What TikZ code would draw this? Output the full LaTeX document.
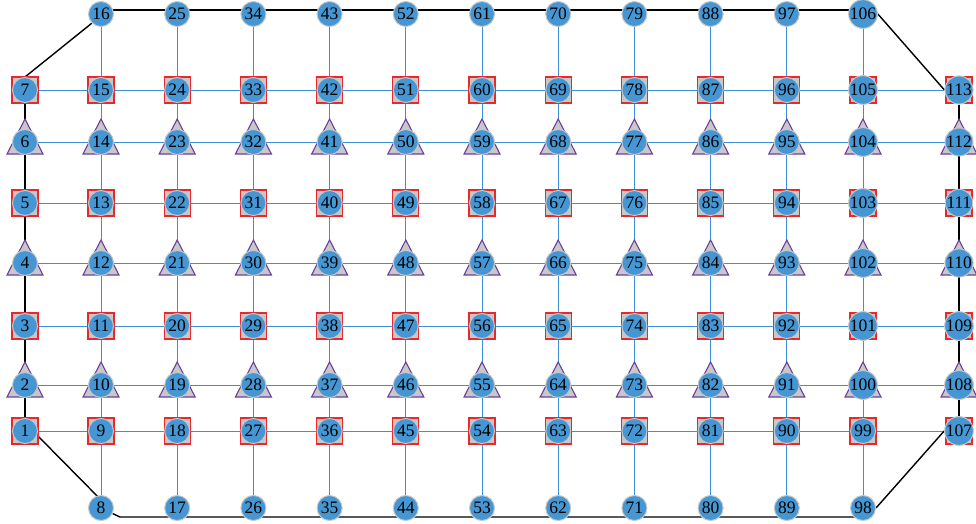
\documentclass[tikz,border=0pt]{standalone}
\usepackage{fontspec}
\setmainfont{Liberation Serif}
\usetikzlibrary{backgrounds}
\definecolor{nodeblue}{HTML}{4596D2}
\definecolor{lineblue}{HTML}{3F8FD8}
\definecolor{sqred}{HTML}{E8282B}
\definecolor{tripurple}{HTML}{6B3FA0}
\definecolor{shapegray}{HTML}{C8C8C8}
\tikzset{
  circnode/.style={circle, fill=nodeblue, draw=black!22, line width=1pt, minimum size=25pt, inner sep=0pt, font=\fontsize{17.5}{17.5}\selectfont},
  sqbox/.style={draw=sqred, fill=shapegray, line width=1.1pt, minimum size=26pt, inner sep=0pt},
  triline/.style={draw=tripurple, fill=shapegray, line width=1.1pt},
  gridline/.style={lineblue, line width=0.9pt},
  edgeline/.style={black, line width=1.4pt},
}
\newcommand\placenode[4]{%
  \ifcase#4\relax
  \or \node[sqbox] at (#1,#2) {};
  \or \draw[triline] (#1-18,#2+12) -- (#1,#2-23) -- (#1+18,#2+12) -- cycle;
  \fi
  \node[circnode] (n#3) at (#1,#2) {#3};
}
\begin{document}
\begin{tikzpicture}[x=1pt,y=-1pt]
\useasboundingbox (0,0) rectangle (976,524);
% left column
\foreach \r in {1,...,7}{
  \pgfmathsetmacro\yy{{508,431,385,326,263,203,142,90,14}[\r]}
  \pgfmathtruncatemacro\kind{mod(\r,2)==1 ? 1 : 2}
  \placenode{25}{\yy}{\r}{\kind}
}
% right column
\foreach \r in {1,...,7}{
  \pgfmathsetmacro\yy{{508,431,385,326,263,203,142,90,14}[\r]}
  \pgfmathtruncatemacro\kind{mod(\r,2)==1 ? 1 : 2}
  \pgfmathtruncatemacro\n{106+\r}
  \placenode{959}{\yy}{\n}{\kind}
}
% inner columns
\foreach \k in {1,...,11}{
  \foreach \r in {0,...,8}{
    \pgfmathsetmacro\xx{101+76.2*(\k-1)}
    \pgfmathsetmacro\yy{{508,431,385,326,263,203,142,90,14}[\r]}
    \pgfmathtruncatemacro\n{8+9*(\k-1)+\r}
    \pgfmathtruncatemacro\kind{(\r==0 || \r==8) ? 0 : (mod(\r,2)==1 ? 1 : 2)}
    \placenode{\xx}{\yy}{\n}{\kind}
  }
}
\coordinate (bl) at (120,517);
\coordinate (br) at (855,517);
\begin{pgfonlayer}{background}
  % horizontal grid lines
  \foreach \r in {1,...,7}{
    \pgfmathtruncatemacro\a{8+\r}
    \draw[gridline] (n\r) -- (n\a);
    \foreach \k in {1,...,10}{
      \pgfmathtruncatemacro\a{8+9*(\k-1)+\r}
      \pgfmathtruncatemacro\b{\a+9}
      \draw[gridline] (n\a) -- (n\b);
    }
    \pgfmathtruncatemacro\a{98+\r}
    \pgfmathtruncatemacro\b{106+\r}
    \draw[gridline] (n\a) -- (n\b);
  }
  % vertical grid lines
  \foreach \k in {1,...,11}{
    \pgfmathtruncatemacro\a{8+9*(\k-1)}
    \pgfmathtruncatemacro\b{\a+8}
    \draw[gridline] (n\a) -- (n\b);
  }
  % boundary
  \draw[edgeline] (n1) -- (n7);
  \draw[edgeline] (n107) -- (n113);
  \draw[edgeline] (n7.north) -- (n16.south west);
  \draw[edgeline] ([yshift=4pt]n16.center) -- ([yshift=4pt]n106.center);
  \draw[edgeline] (n106.east) -- (n113.west);
  \draw[edgeline] (n98.east) -- (n107.west);
  \draw[edgeline] (n8.center) -- (bl) -- (br) -- (n98.center);
  \draw[edgeline] ([xshift=8pt]n1.center) -- ([xshift=8pt]n8.center);
\end{pgfonlayer}
\end{tikzpicture}
\end{document}
